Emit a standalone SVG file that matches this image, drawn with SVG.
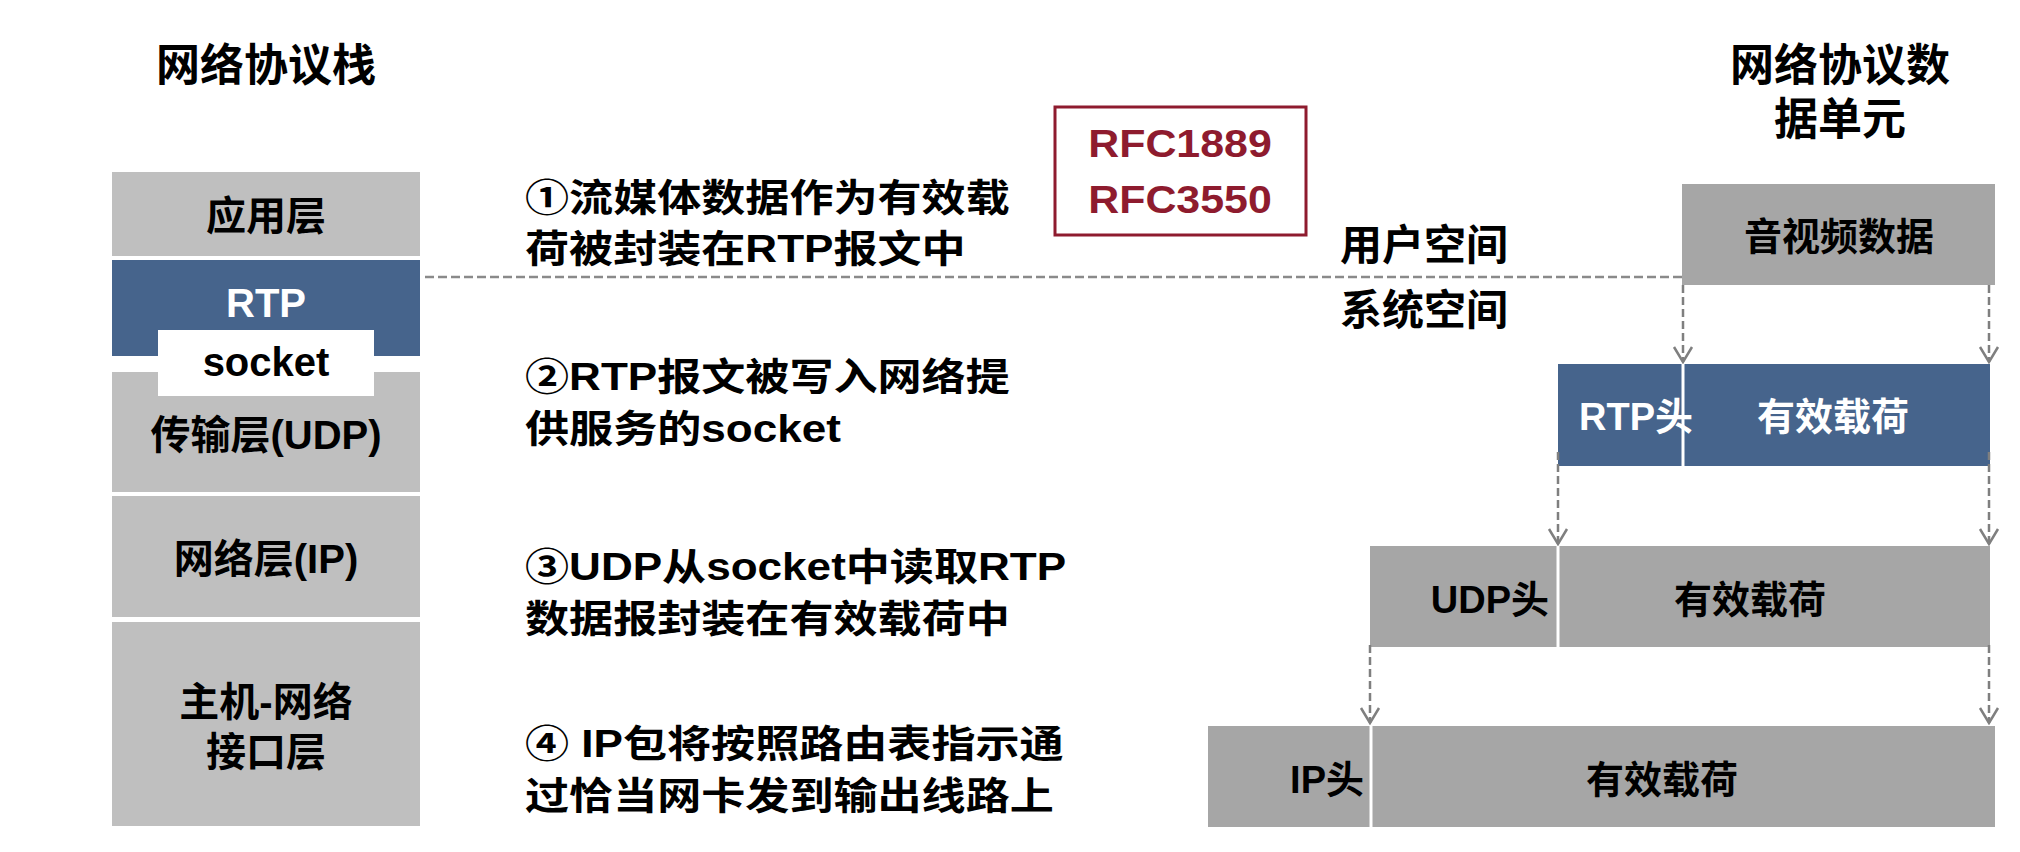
<svg xmlns="http://www.w3.org/2000/svg" width="2020" height="852" viewBox="0 0 2020 852">
<defs>
<style>
text{font-family:"Liberation Sans","Noto Sans CJK SC",sans-serif;font-weight:bold;fill:#000}
.t{font-size:44px;text-anchor:middle}
.lab{font-size:40px;text-anchor:middle}
.plab{font-size:38px}
.mid{text-anchor:middle}
.end{text-anchor:end}
.w{fill:#fff}
.step{font-size:38px}
.sp{font-size:42px}
.rfc{font-size:39px;fill:#8E1B2E;text-anchor:middle}
.gL{fill:#BFBFBF}
.gR{fill:#A6A6A6}
.blue{fill:#46648C}
.div{stroke:#fff;stroke-width:3}
.dash{stroke:#8A8A8A;stroke-width:2.5;stroke-dasharray:9 4;fill:none}
.arr{stroke:#7F7F7F;stroke-width:2.5;stroke-dasharray:8 4;fill:none;marker-end:url(#ah)}
</style>
<marker id="ah" markerUnits="userSpaceOnUse" viewBox="-17 -11 19 22" markerWidth="19" markerHeight="22" refX="0" refY="0" orient="auto">
<path d="M-15,-9 L0,0 L-15,9" fill="none" stroke="#7F7F7F" stroke-width="2.5"/>
</marker>
</defs>
<rect width="2020" height="852" fill="#fff"/>

<g id="title-stack"><text class="t" x="266" y="81">网络协议栈</text></g>
<g id="title-pdu"><text class="t" x="1840" y="81">网络协议数</text><text class="t" x="1840" y="135">据单元</text></g>

<g id="layer-app"><rect class="gL" x="112" y="172" width="308" height="84"/><text class="lab" x="266" y="230">应用层</text></g>
<g id="layer-rtp"><rect class="blue" x="112" y="260" width="308" height="96"/><text class="lab w" x="266" y="317">RTP</text></g>
<g id="layer-udp"><rect class="gL" x="112" y="372" width="308" height="120"/><text class="lab" x="266" y="449">传输层(UDP)</text></g>
<g id="layer-socket"><rect fill="#fff" x="158" y="330" width="216" height="66"/><text class="lab" x="266" y="376">socket</text></g>
<g id="layer-ip"><rect class="gL" x="112" y="496" width="308" height="121"/><text class="lab" x="266" y="573">网络层(IP)</text></g>
<g id="layer-link"><rect class="gL" x="112" y="622" width="308" height="204"/><text class="lab" x="266" y="716">主机-网络</text><text class="lab" x="266" y="766">接口层</text></g>

<g id="step1"><text class="step" transform="translate(525 211) scale(1.16 1)">①流媒体数据作为有效载</text><text class="step" transform="translate(525 262) scale(1.16 1)">荷被封装在RTP报文中</text></g>
<g id="step2"><text class="step" transform="translate(525 390) scale(1.16 1)">②RTP报文被写入网络提</text><text class="step" transform="translate(525 442) scale(1.16 1)">供服务的socket</text></g>
<g id="step3"><text class="step" transform="translate(525 580) scale(1.16 1)">③UDP从socket中读取RTP</text><text class="step" transform="translate(525 632) scale(1.16 1)">数据报封装在有效载荷中</text></g>
<g id="step4"><text class="step" transform="translate(525 757) scale(1.16 1)">④ IP包将按照路由表指示通</text><text class="step" transform="translate(525 809) scale(1.16 1)">过恰当网卡发到输出线路上</text></g>

<g id="rfc"><rect x="1055" y="107" width="251" height="128" fill="none" stroke="#8E1B2E" stroke-width="3"/><text class="rfc" transform="translate(1180 157) scale(1.1 1)">RFC1889</text><text class="rfc" transform="translate(1180 213) scale(1.1 1)">RFC3550</text></g>

<g id="space-labels"><text class="sp" x="1340" y="260">用户空间</text><text class="sp" x="1340" y="325">系统空间</text></g>

<g id="pdu-av"><rect class="gR" x="1682" y="184" width="313" height="101"/><text class="plab mid" x="1839" y="250">音视频数据</text></g>
<g id="pdu-rtp"><rect class="blue" x="1558" y="364" width="432" height="102"/><line class="div" x1="1683" y1="364" x2="1683" y2="466"/><text class="plab end w" x="1693" y="430">RTP头</text><text class="plab mid w" x="1833" y="430">有效载荷</text></g>
<g id="pdu-udp"><rect class="gR" x="1370" y="546" width="620" height="101"/><line class="div" x1="1558" y1="546" x2="1558" y2="647"/><text class="plab end" x="1549" y="613">UDP头</text><text class="plab mid" x="1750" y="613">有效载荷</text></g>
<g id="pdu-ip"><rect class="gR" x="1208" y="726" width="787" height="101"/><line class="div" x1="1371" y1="726" x2="1371" y2="827"/><text class="plab end" x="1364" y="793">IP头</text><text class="plab mid" x="1662" y="793">有效载荷</text></g>

<g id="connectors">
<path class="dash" d="M425,277 H1682"/>
<path class="arr" d="M1683,285 V362"/>
<path class="arr" d="M1989,285 V362"/>
<path class="arr" d="M1558,452 V544"/>
<path class="arr" d="M1989,452 V544"/>
<path class="arr" d="M1370,645 V723"/>
<path class="arr" d="M1989,645 V723"/>
</g>
</svg>
